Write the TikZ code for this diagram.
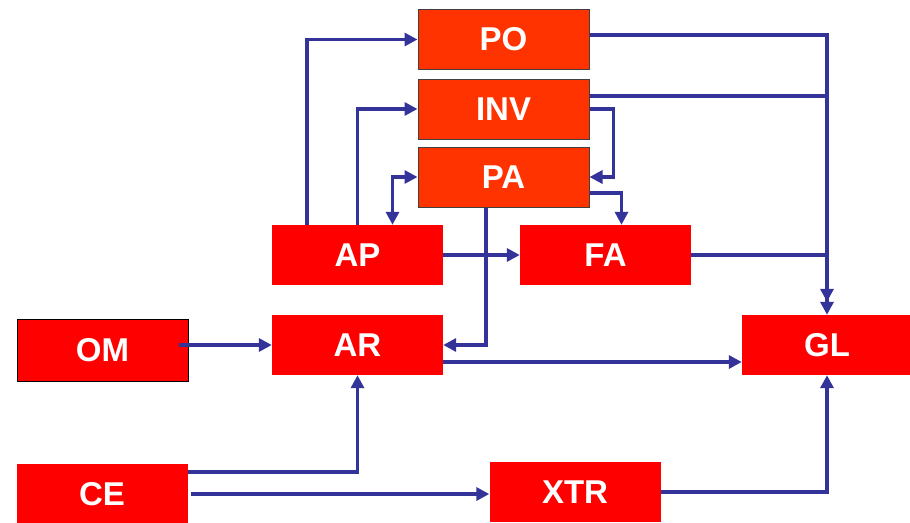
\documentclass[tikz,border=0pt]{standalone}
\usepackage{fontspec}
\setmainfont{Liberation Sans}
\usetikzlibrary{arrows.meta}
\definecolor{boxred}{HTML}{FF0000}
\definecolor{boxorange}{HTML}{FF3300}
\definecolor{lineblue}{HTML}{333399}
\tikzset{
  blk/.style={rectangle, fill=boxred, minimum width=171pt, minimum height=60pt, inner sep=0pt,
    text=white, font=\fontsize{33}{36}\selectfont\bfseries},
  topblk/.style={blk, fill=boxorange, draw=black!75, line width=1pt},
  tip/.tip={Triangle[length=13pt,width=13pt]},
  conn/.style={draw=lineblue, line width=3.5pt, -tip},
  plain/.style={draw=lineblue, line width=3.5pt},
}
\begin{document}
\begin{tikzpicture}[x=1pt,y=-1pt]
\useasboundingbox (0,0) rectangle (910,522);
\node[topblk] (PO)  at (503.5,39.5) {PO};
\node[topblk] (INV) at (503.5,109)  {INV};
\node[topblk] (PA)  at (503.5,177)  {PA};
\node[blk] (AP)  at (357.5,255) {AP};
\node[blk] (FA)  at (605.5,255) {FA};
\node[blk] (AR)  at (357.5,345) {AR};
\node[blk, draw=black, line width=1pt, minimum height=62pt] (OM) at (102.5,350) {OM};
\node[blk] (CE)  at (102,494) {CE};
\node[blk] (XTR) at (575,492) {XTR};
\node[blk, minimum width=170pt] (GL) at (827,345) {GL};

% AP -> PO, AP -> INV
\draw[conn] ([xshift=35pt]AP.north west) |- (PO.west);
\draw[conn] (AP.north) |- (INV.west);
% AP <-> PA
\draw[conn, tip-tip] ([xshift=35pt]AP.north) |- (PA.west);
% INV -> PA
\draw[conn] (INV.east) -- ++(24,0) |- (PA.east);
% PA -> FA
\draw[conn] ([yshift=-16pt]PA.east) -| ([xshift=16pt]FA.north);
% PO, INV, FA -> GL
\draw[plain] ([yshift=13pt]INV.east) -- ([yshift=13pt]INV.east -| GL.north);
\draw[plain] (FA.east) -- (FA.east -| GL.north);
\draw[plain, -{tip[]tip[]}] ([yshift=4.5pt]PO.east) -| (GL.north);
% PA -> AR
\draw[conn] ([xshift=-17.5pt]PA.south) |- (AR.east);
% AP -> FA
\draw[conn] (AP.east) -- (FA.west);
% OM -> AR
\draw[conn] ([xshift=-10pt,yshift=5pt]OM.east) -- (AR.west);
% AR -> GL
\draw[conn] ([yshift=-17pt]AR.east) -- ([yshift=-17pt]AR.east -| GL.west);
% CE -> AR
\draw[conn] ([yshift=22pt]CE.east) -| (AR.south);
% CE -> XTR
\draw[conn] ([xshift=3pt]CE.east) -- (CE.east -| XTR.west);
% XTR -> GL
\draw[conn] (XTR.east) -| (GL.south);
\end{tikzpicture}
\end{document}
